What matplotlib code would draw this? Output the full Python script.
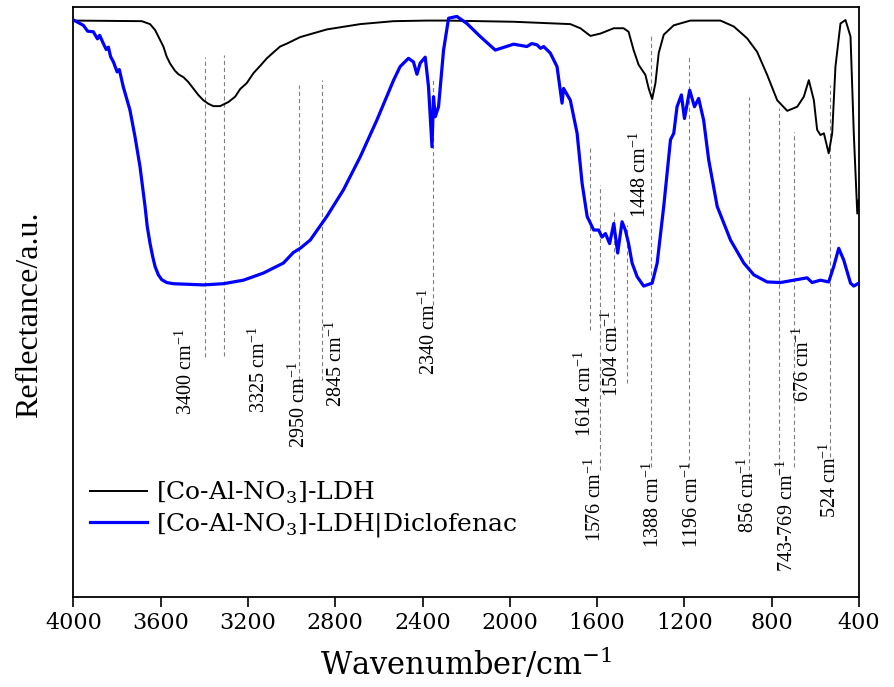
import matplotlib
matplotlib.use("Agg")
import matplotlib.pyplot as plt

# ---------------- data ----------------
wn_ldh = [4000, 3687, 3649, 3626, 3611, 3588, 3573, 3557, 3535, 3519, 3496, 3474, 3451, 3428,
          3405, 3382, 3359, 3328, 3290, 3259, 3236, 3206, 3175, 3145, 3114, 3084, 3053, 3022,
          2961, 2839, 2686, 2533, 2380, 2288, 1983, 1723, 1677, 1631, 1585, 1524,
          1479, 1456, 1433, 1410, 1379, 1364, 1348, 1333, 1318, 1295, 1249, 1173, 1035, 974,
          913, 867, 821, 775, 729, 683, 653, 630, 607, 592, 577, 561, 539, 523, 508, 485, 462,
          439, 424, 408, 401]
r_ldh = [97.7, 97.6, 97.1, 96.1, 95.0, 93.3, 91.6, 90.4, 89.2, 88.6, 88.1, 87.3, 86.2, 85.1,
         84.2, 83.6, 83.2, 83.2, 83.9, 84.8, 86.1, 87.1, 88.8, 90.0, 91.3, 92.3, 93.3, 93.8,
         94.9, 96.2, 97.1, 97.6, 97.7, 97.7, 97.5, 97.1, 96.4, 95.1, 95.5, 96.4,
         96.4, 95.8, 92.7, 90.2, 88.5, 86.2, 84.4, 87.1, 92.2, 95.3, 96.9, 97.7, 97.7, 96.7,
         94.7, 92.4, 88.5, 84.2, 82.4, 83.1, 84.8, 87.6, 84.2, 79.2, 78.3, 78.6, 75.2, 78.6,
         89.9, 97.2, 97.8, 95.0, 78.6, 65.0, 67.3]

wn_dic = [4000, 3975, 3955, 3935, 3909, 3890, 3880, 3863, 3850, 3840, 3830, 3817, 3800, 3790,
          3772, 3741, 3718, 3695, 3672, 3662, 3649, 3637, 3626, 3611, 3596, 3573, 3542, 3405,
          3313, 3221, 3130, 3038, 2992, 2961, 2915, 2839, 2763, 2686, 2610, 2533, 2503, 2465,
          2442, 2426, 2411, 2388, 2373, 2357, 2350, 2342, 2327, 2304, 2281, 2243, 2197, 2136,
          2067, 1983, 1922, 1900, 1876, 1860, 1845, 1815, 1784, 1761, 1754, 1723, 1692, 1669,
          1646, 1616, 1593, 1578, 1562, 1543, 1524, 1506, 1486, 1471, 1456, 1440, 1417, 1387,
          1348, 1325, 1295, 1264, 1249, 1234, 1214, 1200, 1176, 1154, 1135, 1112, 1089, 1050,
          989, 928, 882, 821, 760, 699, 638, 615, 577, 539, 516, 493, 470, 439, 424, 401]
r_dic = [97.8, 97.3, 96.9, 95.9, 95.8, 94.6, 95.2, 93.8, 92.8, 93.2, 91.6, 90.7, 89.0, 89.4,
         86.5, 82.5, 78.0, 72.9, 66.2, 62.8, 59.9, 57.7, 56.0, 54.6, 53.8, 53.3, 53.1, 52.9,
         53.1, 53.7, 54.9, 56.6, 58.4, 59.1, 60.5, 64.5, 69.0, 74.6, 80.8, 87.6, 89.9, 91.3,
         90.7, 88.6, 90.5, 91.5, 86.5, 76.3, 84.8, 81.4, 83.1, 92.7, 98.1, 98.4, 97.2, 95.0,
         92.7, 93.7, 93.3, 93.8, 93.6, 93.0, 93.3, 92.2, 89.9, 83.7, 86.2, 84.2, 78.6, 70.1,
         64.5, 62.2, 62.2, 61.0, 61.6, 59.9, 63.3, 58.3, 63.6, 62.2, 59.9, 56.6, 54.3, 52.7,
         53.2, 56.6, 66.2, 77.5, 78.6, 83.1, 85.1, 81.1, 85.9, 83.1, 84.5, 80.8, 74.1, 66.2,
         60.5, 56.6, 54.6, 53.4, 53.3, 53.7, 54.1, 53.3, 53.7, 53.4, 56.0, 59.1, 57.1, 53.2,
         52.7, 53.2]

series_names = [r"[Co-Al-NO$_{\mathregular{3}}$]-LDH",
                r"[Co-Al-NO$_{\mathregular{3}}$]-LDH|Diclofenac"]

# reference dashed lines: position, lower end, upper end
ref_wn = [3397, 3310, 2966, 2860, 2351, 1631, 1585, 1521, 1462, 1352, 1177, 902, 765, 696, 535]
ref_lo = [40.7, 40.8, 35.6, 36.8, 49.5, 45.3, 21.5, 45.3, 36.3, 22.0, 22.0, 20.3, 21.0, 22.0, 23.7]
ref_hi = [91.5, 91.9, 86.8, 87.6, 88.0, 76.3, 69.8, 65.3, 63.1, 95.3, 91.9, 84.7, 82.9, 78.8, 86.8]

# peak labels and their anchor (baseline, start) positions
peak_labels = ["3400", "3325", "2950", "2845", "2340", "1614", "1576", "1504", "1448",
               "1388", "1196", "856", "743-769", "676", "524"]
label_wn = [3457, 3122, 2938, 2769, 2342, 1631, 1585, 1507, 1379, 1319, 1141, 884, 705, 632, 508]
label_r = [30.8, 31.2, 25.3, 32.2, 37.6, 27.1, 9.3, 33.9, 64.2, 8.3, 8.3, 10.8, 4.2, 33.1, 13.4]

xticks = [4000, 3600, 3200, 2800, 2400, 2000, 1600, 1200, 800, 400]

# ---------------- plot ----------------
fig = plt.figure(figsize=(8.95, 6.87), dpi=100)
ax = fig.add_axes([0.0821, 0.131, 0.8777, 0.8588])

ax.vlines(ref_wn, ref_lo, ref_hi, colors="#7f7f7f", linewidth=0.8,
          linestyles=(0, (3.7, 2.7)), zorder=1)

l1, = ax.plot(wn_ldh, r_ldh, color="black", lw=1.4, zorder=3)
l2, = ax.plot(wn_dic, r_dic, color="#0000ff", lw=2.3, zorder=4)

for lab, xw, yr in zip(peak_labels, label_wn, label_r):
    ax.text(xw, yr, lab + r" cm$^{\mathregular{-1}}$", rotation=90, rotation_mode="anchor",
            ha="left", va="baseline", fontsize=14.5, family="Liberation Serif", zorder=5)

ax.set_xlim(4000, 400)
ax.set_ylim(0, 100)
ax.set_xticks(xticks)
ax.set_xticklabels([str(t) for t in xticks], family="DejaVu Serif", fontsize=16)
ax.set_yticks([])
ax.tick_params(axis="x", direction="out", length=7, width=1.2, pad=4)
for s in ax.spines.values():
    s.set_linewidth(1.3)

ax.set_xlabel(r"Wavenumber/cm$^{\mathregular{-1}}$", family="DejaVu Serif", fontsize=22,
              labelpad=9)
ax.set_ylabel("Reflectance/a.u.", family="Liberation Serif", fontsize=23)
ax.yaxis.set_label_coords(-0.037, 0.478)

leg = ax.legend([l1, l2], series_names, loc="upper left", bbox_to_anchor=(0.021, 0.199),
                frameon=False, prop={"family": "DejaVu Serif", "size": 18},
                handlelength=2.3, handletextpad=0.35, labelspacing=0.22,
                borderpad=0, borderaxespad=0)

fig.savefig("out.png", dpi=100)
